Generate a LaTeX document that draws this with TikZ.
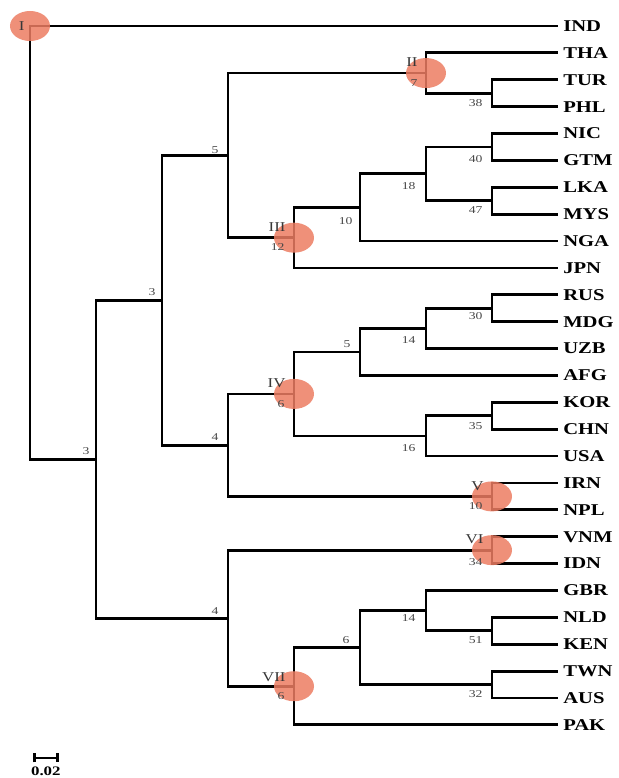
\documentclass[tikz,border=0pt]{standalone}
\usepackage{fontspec}
\setmainfont{Liberation Serif}
\usetikzlibrary{arrows.meta,positioning,shapes.geometric}

\definecolor{cladefill}{RGB}{236,124,98}

\begin{document}
\begin{tikzpicture}[
x=66pt, y=-26.88pt,
leaf/.style={anchor=west, inner sep=4pt, xscale=1.25, font=\fontsize{16.5}{17}\selectfont\bfseries},
boot/.style={inner sep=1pt, xscale=1.3, text=black!72, font=\fontsize{10.5}{11}\selectfont},
tag/.style={inner sep=1pt, xscale=1.25, text=black!78, font=\fontsize{13.5}{14}\selectfont},
clade/.style={ellipse, fill=cladefill, fill opacity=0.85, inner sep=0pt, minimum width=40pt, minimum height=30pt},
branch/.style={line width=2.8pt}
]
\useasboundingbox (-30pt,26pt) rectangle (588pt,-752pt);

% leaves
\node[leaf] (IND) at (8,0) {IND};
\node[leaf] (THA) at (8,1) {THA};
\node[leaf] (TUR) at (8,2) {TUR};
\node[leaf] (PHL) at (8,3) {PHL};
\node[leaf] (NIC) at (8,4) {NIC};
\node[leaf] (GTM) at (8,5) {GTM};
\node[leaf] (LKA) at (8,6) {LKA};
\node[leaf] (MYS) at (8,7) {MYS};
\node[leaf] (NGA) at (8,8) {NGA};
\node[leaf] (JPN) at (8,9) {JPN};
\node[leaf] (RUS) at (8,10) {RUS};
\node[leaf] (MDG) at (8,11) {MDG};
\node[leaf] (UZB) at (8,12) {UZB};
\node[leaf] (AFG) at (8,13) {AFG};
\node[leaf] (KOR) at (8,14) {KOR};
\node[leaf] (CHN) at (8,15) {CHN};
\node[leaf] (USA) at (8,16) {USA};
\node[leaf] (IRN) at (8,17) {IRN};
\node[leaf] (NPL) at (8,18) {NPL};
\node[leaf] (VNM) at (8,19) {VNM};
\node[leaf] (IDN) at (8,20) {IDN};
\node[leaf] (GBR) at (8,21) {GBR};
\node[leaf] (NLD) at (8,22) {NLD};
\node[leaf] (KEN) at (8,23) {KEN};
\node[leaf] (TWN) at (8,24) {TWN};
\node[leaf] (AUS) at (8,25) {AUS};
\node[leaf] (PAK) at (8,26) {PAK};

% internal nodes
\coordinate (root) at (0,8.059);
\coordinate (n2) at (1,16.117);
\coordinate (n3) at (2,10.203);
\coordinate (n4) at (3,4.8125);
\coordinate (n9) at (3,15.594);
\coordinate (n13) at (3,22.031);
\coordinate (nIII) at (4,7.875);
\coordinate (nIV) at (4,13.6875);
\coordinate (nVII) at (4,24.5625);
\coordinate (n7) at (5,6.75);
\coordinate (n11) at (5,12.125);
\coordinate (n19) at (5,23.125);
\coordinate (nII) at (6,1.75);
\coordinate (n8) at (6,5.5);
\coordinate (n12) at (6,11.25);
\coordinate (n14) at (6,15.25);
\coordinate (n20) at (6,21.75);
\coordinate (n5a) at (7,2.5);
\coordinate (n8a) at (7,4.5);
\coordinate (n8b) at (7,6.5);
\coordinate (n12a) at (7,10.5);
\coordinate (n14a) at (7,14.5);
\coordinate (nV) at (7,17.5);
\coordinate (nVI) at (7,19.5);
\coordinate (n21) at (7,22.5);
\coordinate (n22) at (7,24.5);

% branches
\draw[branch] (root) |- (IND.west) (root) |- (n2);
\draw[branch] (n2) |- (n3) (n2) |- (n13);
\draw[branch] (n3) |- (n4) (n3) |- (n9);
\draw[branch] (n4) |- (nII) (n4) |- (nIII);
\draw[branch] (nII) |- (THA.west) (nII) |- (n5a);
\draw[branch] (n5a) |- (TUR.west) (n5a) |- (PHL.west);
\draw[branch] (nIII) |- (n7) (nIII) |- (JPN.west);
\draw[branch] (n7) |- (n8) (n7) |- (NGA.west);
\draw[branch] (n8) |- (n8a) (n8) |- (n8b);
\draw[branch] (n8a) |- (NIC.west) (n8a) |- (GTM.west);
\draw[branch] (n8b) |- (LKA.west) (n8b) |- (MYS.west);
\draw[branch] (n9) |- (nIV) (n9) |- (nV);
\draw[branch] (nIV) |- (n11) (nIV) |- (n14);
\draw[branch] (n11) |- (n12) (n11) |- (AFG.west);
\draw[branch] (n12) |- (n12a) (n12) |- (UZB.west);
\draw[branch] (n12a) |- (RUS.west) (n12a) |- (MDG.west);
\draw[branch] (n14) |- (n14a) (n14) |- (USA.west);
\draw[branch] (n14a) |- (KOR.west) (n14a) |- (CHN.west);
\draw[branch] (nV) |- (IRN.west) (nV) |- (NPL.west);
\draw[branch] (n13) |- (nVI) (n13) |- (nVII);
\draw[branch] (nVI) |- (VNM.west) (nVI) |- (IDN.west);
\draw[branch] (nVII) |- (n19) (nVII) |- (PAK.west);
\draw[branch] (n19) |- (n20) (n19) |- (n22);
\draw[branch] (n20) |- (GBR.west) (n20) |- (n21);
\draw[branch] (n21) |- (NLD.west) (n21) |- (KEN.west);
\draw[branch] (n22) |- (TWN.west) (n22) |- (AUS.west);

% clade marks
\node[clade] (cI) at (root |- IND.west) {};
\node[clade] (cII) at (nII) {};
\node[clade] (cIII) at (nIII) {};
\node[clade] (cIV) at (nIV) {};
\node[clade] (cV) at (nV) {};
\node[clade] (cVI) at (nVI) {};
\node[clade] (cVII) at (nVII) {};

\node[tag, left=4pt] (tI) at (cI.center) {I};
\node[tag, above left=5pt and 7pt] (tII) at (nII) {II};
\node[tag, above left=5pt and 7pt] (tIII) at (nIII) {III};
\node[tag, above left=5pt and 7pt] (tIV) at (nIV) {IV};
\node[tag, above left=5pt and 7pt] (tV) at (nV) {V};
\node[tag, above left=5pt and 7pt] (tVI) at (nVI) {VI};
\node[tag, above left=3pt and 7pt] (tVII) at (nVII) {VII};

% bootstrap values
\node[boot, below left=5pt and 7pt] (bII) at (nII) {7};
\node[boot, below left=5pt and 8pt] (bIII) at (nIII) {12};
\node[boot, below left=5pt and 8pt] (bIV) at (nIV) {6};
\node[boot, below left=5pt and 8pt] (bV) at (nV) {10};
\node[boot, below left=7pt and 8pt] (bVI) at (nVI) {34};
\node[boot, below left=5pt and 8pt] (bVII) at (nVII) {6};
\node[boot, above left=3pt and 5pt] (b2) at (n2) {3};
\node[boot, above left=3pt and 5pt] (b3) at (n3) {3};
\node[boot, above left=1pt and 8pt] (b4) at (n4) {5};
\node[boot, above left=3pt and 8pt] (b9) at (n9) {4};
\node[boot, above left=3pt and 8pt] (b13) at (n13) {4};
\node[boot, below left=9pt and 6pt] (b7) at (n7) {10};
\node[boot, above left=3pt and 8pt] (b11) at (n11) {5};
\node[boot, above left=3pt and 9pt] (b19) at (n19) {6};
\node[boot, below left=7pt and 9pt] (b8) at (n8) {18};
\node[boot, below left=7pt and 9pt] (b12) at (n12) {14};
\node[boot, below left=7pt and 9pt] (b14) at (n14) {16};
\node[boot, below left=3pt and 9pt] (b20) at (n20) {14};
\node[boot, below left=5pt and 8pt] (b5a) at (n5a) {38};
\node[boot, below left=7pt and 8pt] (b8a) at (n8a) {40};
\node[boot, below left=5pt and 8pt] (b8b) at (n8b) {47};
\node[boot, below left=3pt and 8pt] (b12a) at (n12a) {30};
\node[boot, below left=6pt and 8pt] (b14a) at (n14a) {35};
\node[boot, below left=5pt and 8pt] (b21) at (n21) {51};
\node[boot, below left=5pt and 8pt] (b22) at (n22) {32};

% scale bar
\coordinate (sbL) at (0.045,27.23);
\coordinate (sbR) at (0.44,27.23);
\draw[line width=2.6pt, {Bar[width=9pt]}-{Bar[width=9pt]}] (sbL) -- (sbR);
\node[anchor=north, inner sep=0pt, xscale=1.3, font=\fontsize{13}{13}\selectfont\bfseries] (sbText) at (0.24,27.55) {0.02};
\end{tikzpicture}
\end{document}
